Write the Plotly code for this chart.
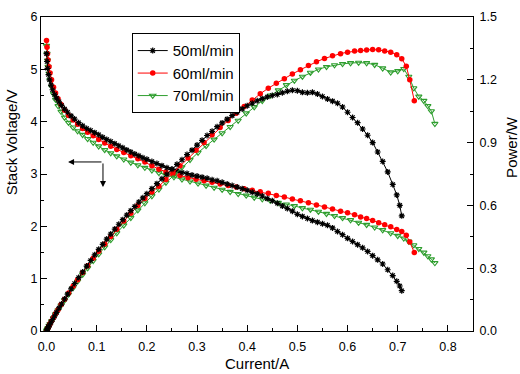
import plotly.graph_objects as go

# ---- 50 ml/min ----
i50 = [0.000, 0.001, 0.002, 0.004, 0.006, 0.009, 0.012, 0.016, 0.020, 0.025, 0.030, 0.036, 0.042, 0.049,
       0.056, 0.064, 0.072, 0.080, 0.088, 0.096, 0.104, 0.112, 0.120, 0.128, 0.136, 0.144, 0.152, 0.160,
       0.168, 0.176, 0.184, 0.192, 0.200, 0.210, 0.220, 0.230, 0.240, 0.250, 0.260, 0.270, 0.280, 0.290,
       0.300, 0.310, 0.320, 0.330, 0.340, 0.350, 0.360, 0.370, 0.380, 0.390, 0.400, 0.410, 0.420, 0.430,
       0.440, 0.450, 0.460, 0.470, 0.480, 0.490, 0.500, 0.510, 0.520, 0.530, 0.540, 0.550, 0.560, 0.570,
       0.580, 0.590, 0.600, 0.610, 0.620, 0.630, 0.640, 0.650, 0.660, 0.670, 0.680, 0.690, 0.698, 0.704, 0.708]
v50 = [5.30, 5.15, 5.02, 4.90, 4.80, 4.70, 4.61, 4.52, 4.45, 4.38, 4.31, 4.24, 4.18, 4.11,
       4.05, 3.98, 3.92, 3.87, 3.83, 3.79, 3.75, 3.70, 3.66, 3.62, 3.58, 3.54, 3.50, 3.46,
       3.42, 3.38, 3.35, 3.31, 3.28, 3.24, 3.20, 3.16, 3.12, 3.09, 3.06, 3.03, 3.01, 2.98,
       2.96, 2.94, 2.92, 2.89, 2.87, 2.84, 2.81, 2.78, 2.75, 2.72, 2.69, 2.65, 2.62, 2.58,
       2.53, 2.49, 2.44, 2.39, 2.34, 2.29, 2.23, 2.19, 2.15, 2.11, 2.08, 2.05, 2.02, 1.97,
       1.90, 1.84, 1.77, 1.71, 1.65, 1.59, 1.52, 1.44, 1.36, 1.28, 1.17, 1.06, 0.95, 0.86, 0.77]
p50 = [0.000, 0.005, 0.010, 0.020, 0.029, 0.042, 0.055, 0.072, 0.089, 0.110, 0.129, 0.153, 0.176, 0.201,
       0.227, 0.255, 0.282, 0.310, 0.337, 0.364, 0.390, 0.414, 0.439, 0.463, 0.487, 0.510, 0.532, 0.554,
       0.575, 0.595, 0.616, 0.636, 0.656, 0.680, 0.704, 0.727, 0.749, 0.773, 0.796, 0.818, 0.843, 0.864,
       0.888, 0.911, 0.934, 0.954, 0.976, 0.994, 1.012, 1.029, 1.045, 1.061, 1.076, 1.088, 1.100, 1.110,
       1.118, 1.125, 1.130, 1.138, 1.145, 1.150, 1.148, 1.140, 1.138, 1.140, 1.132, 1.120, 1.108, 1.098,
       1.088, 1.070, 1.045, 1.020, 0.995, 0.965, 0.935, 0.900, 0.855, 0.810, 0.760, 0.700, 0.650, 0.600, 0.550]

# ---- 60 ml/min ----
i60 = [0.000, 0.001, 0.002, 0.003, 0.005, 0.007, 0.010, 0.014, 0.018, 0.023, 0.029, 0.036, 0.044, 0.053,
       0.062, 0.072, 0.082, 0.093, 0.104, 0.116, 0.128, 0.140, 0.154, 0.168, 0.182, 0.196, 0.210, 0.224,
       0.238, 0.252, 0.266, 0.282, 0.298, 0.314, 0.330, 0.346, 0.362, 0.378, 0.394, 0.410, 0.426, 0.442,
       0.458, 0.474, 0.490, 0.506, 0.522, 0.538, 0.554, 0.570, 0.586, 0.600, 0.614, 0.626, 0.638, 0.650,
       0.662, 0.674, 0.686, 0.698, 0.708, 0.717, 0.724, 0.733]
v60 = [5.55, 5.42, 5.30, 5.18, 5.05, 4.93, 4.80, 4.66, 4.55, 4.44, 4.33, 4.22, 4.12, 4.03,
       3.95, 3.87, 3.80, 3.73, 3.66, 3.59, 3.53, 3.47, 3.41, 3.35, 3.29, 3.23, 3.16, 3.09,
       3.04, 3.00, 2.97, 2.93, 2.90, 2.87, 2.84, 2.81, 2.78, 2.75, 2.72, 2.69, 2.66, 2.63,
       2.59, 2.56, 2.52, 2.49, 2.45, 2.41, 2.37, 2.33, 2.29, 2.26, 2.22, 2.18, 2.15, 2.11,
       2.07, 2.03, 1.99, 1.94, 1.90, 1.83, 1.70, 1.50]
p60 = [0.000, 0.005, 0.011, 0.016, 0.025, 0.035, 0.048, 0.065, 0.082, 0.102, 0.126, 0.152, 0.181, 0.214,
       0.245, 0.279, 0.312, 0.347, 0.381, 0.416, 0.452, 0.486, 0.525, 0.563, 0.599, 0.633, 0.664, 0.692,
       0.724, 0.756, 0.790, 0.826, 0.864, 0.901, 0.937, 0.972, 1.006, 1.040, 1.072, 1.103, 1.133, 1.160,
       1.184, 1.205, 1.228, 1.248, 1.268, 1.286, 1.302, 1.315, 1.325, 1.332, 1.337, 1.340, 1.342, 1.345,
       1.343, 1.338, 1.332, 1.320, 1.300, 1.265, 1.200, 1.100]

# ---- 70 ml/min ----
i70 = [0.000, 0.001, 0.002, 0.003, 0.005, 0.007, 0.010, 0.014, 0.018, 0.023, 0.029, 0.036, 0.044, 0.053,
       0.062, 0.072, 0.082, 0.093, 0.104, 0.116, 0.128, 0.140, 0.154, 0.168, 0.182, 0.196, 0.210, 0.224,
       0.238, 0.254, 0.270, 0.286, 0.302, 0.318, 0.334, 0.350, 0.366, 0.382, 0.398, 0.414, 0.430, 0.446,
       0.462, 0.478, 0.494, 0.510, 0.526, 0.542, 0.558, 0.574, 0.590, 0.606, 0.622, 0.638, 0.654, 0.670,
       0.686, 0.700, 0.712, 0.722, 0.732, 0.742, 0.752, 0.760, 0.767, 0.774]
v70 = [5.45, 5.30, 5.17, 5.05, 4.92, 4.80, 4.67, 4.53, 4.42, 4.30, 4.19, 4.08, 3.98, 3.89,
       3.82, 3.75, 3.67, 3.60, 3.53, 3.46, 3.40, 3.34, 3.28, 3.22, 3.17, 3.12, 3.07, 3.02,
       2.98, 2.94, 2.90, 2.86, 2.82, 2.78, 2.74, 2.70, 2.66, 2.62, 2.59, 2.55, 2.52, 2.49,
       2.45, 2.42, 2.39, 2.35, 2.32, 2.28, 2.24, 2.20, 2.16, 2.12, 2.07, 2.03, 1.98, 1.93,
       1.87, 1.82, 1.77, 1.71, 1.64, 1.57, 1.50, 1.43, 1.37, 1.30]
p70 = [0.000, 0.005, 0.010, 0.015, 0.025, 0.034, 0.047, 0.063, 0.080, 0.099, 0.122, 0.147, 0.175, 0.206,
       0.237, 0.270, 0.301, 0.335, 0.367, 0.401, 0.435, 0.468, 0.505, 0.541, 0.577, 0.611, 0.645, 0.677,
       0.709, 0.747, 0.783, 0.818, 0.852, 0.884, 0.915, 0.945, 0.975, 1.005, 1.040, 1.070, 1.100, 1.125,
       1.150, 1.175, 1.196, 1.215, 1.234, 1.250, 1.262, 1.270, 1.276, 1.280, 1.282, 1.280, 1.272, 1.255,
       1.236, 1.242, 1.252, 1.215, 1.160, 1.120, 1.100, 1.075, 1.050, 0.990]

names = ["50ml/min", "60ml/min", "70ml/min"]
FONT = "Liberation Sans, Arial, sans-serif"

fig = go.Figure()

styles = [
    dict(color="black", marker=dict(symbol="asterisk-open", size=5, color="black",
                                     line=dict(color="black", width=1.2))),
    dict(color="red", marker=dict(symbol="circle", size=5.5, color="red",
                                  line=dict(color="red", width=0))),
    dict(color="#2e9e2e", marker=dict(symbol="triangle-down-open", size=5.5, color="#2e9e2e",
                                      line=dict(color="#2e9e2e", width=1.1))),
]
series = [(i50, v50, p50), (i60, v60, p60), (i70, v70, p70)]

for k in [2, 1, 0]:
    cur, volt, pw = series[k]
    st = styles[k]
    fig.add_trace(go.Scatter(x=cur, y=volt, mode="lines+markers", name=names[k],
                             legendgroup=names[k], legendrank=k,
                             line=dict(color=st["color"], width=1), marker=st["marker"]))
    fig.add_trace(go.Scatter(x=cur, y=pw, mode="lines+markers", name=names[k],
                             legendgroup=names[k], showlegend=False, yaxis="y2",
                             line=dict(color=st["color"], width=1), marker=st["marker"]))

axis_common = dict(showline=True, linecolor="black", linewidth=1, ticks="inside",
                   ticklen=6, tickwidth=1, tickcolor="black", showgrid=False, zeroline=False,
                   tickfont=dict(family=FONT, size=12.5, color="black"))

fig.update_layout(
    width=520, height=374,
    margin=dict(l=41, r=47, t=10, b=43),
    paper_bgcolor="white", plot_bgcolor="white",
    font=dict(family=FONT, color="black"),
    xaxis=dict(range=[-0.011, 0.85], dtick=0.1, tick0=0, tickformat=".1f", mirror=True,
               ticklabelstandoff=4,
               minor=dict(dtick=0.05, ticks="inside", ticklen=3, tickcolor="black"),
               **axis_common),
    yaxis=dict(range=[0, 6], dtick=1, tick0=0,
               minor=dict(dtick=0.5, ticks="inside", ticklen=3, tickcolor="black"),
               **axis_common),
    yaxis2=dict(range=[0, 1.5], dtick=0.3, tick0=0, tickformat=".1f", overlaying="y", side="right",
                ticklabelstandoff=3,
                minor=dict(dtick=0.15, ticks="inside", ticklen=3, tickcolor="black"),
                **axis_common),
    legend=dict(x=0.21, y=0.948, xanchor="left", yanchor="top", bgcolor="white",
                bordercolor="black", borderwidth=1, font=dict(family=FONT, size=15),
                traceorder="normal", itemwidth=30, tracegroupgap=0),
    showlegend=True,
)

# axis titles
fig.add_annotation(text="Current/A", xref="paper", yref="paper", x=0.5, y=-0.103,
                   xanchor="center", yanchor="middle", showarrow=False,
                   font=dict(family=FONT, size=15, color="black"))
fig.add_annotation(text="Stack Voltage/V", xref="paper", yref="paper", x=-0.0694, y=0.601,
                   xanchor="center", yanchor="middle", textangle=-90, showarrow=False,
                   font=dict(family=FONT, size=15, color="black"))
fig.add_annotation(text="Power/W", xref="paper", yref="paper", x=1.090, y=0.586,
                   xanchor="center", yanchor="middle", textangle=-90, showarrow=False,
                   font=dict(family=FONT, size=15, color="black"))

# arrows indicating axis association
fig.add_annotation(x=0.043, y=3.23, ax=0.1125, ay=3.23, xref="x", yref="y", axref="x", ayref="y",
                   showarrow=True, arrowhead=2, arrowsize=1.2, arrowwidth=1, arrowcolor="black", text="")
fig.add_annotation(x=0.1125, y=2.75, ax=0.1125, ay=3.23, xref="x", yref="y", axref="x", ayref="y",
                   showarrow=True, arrowhead=2, arrowsize=1.2, arrowwidth=1, arrowcolor="black", text="")

fig.write_html("out.html")
